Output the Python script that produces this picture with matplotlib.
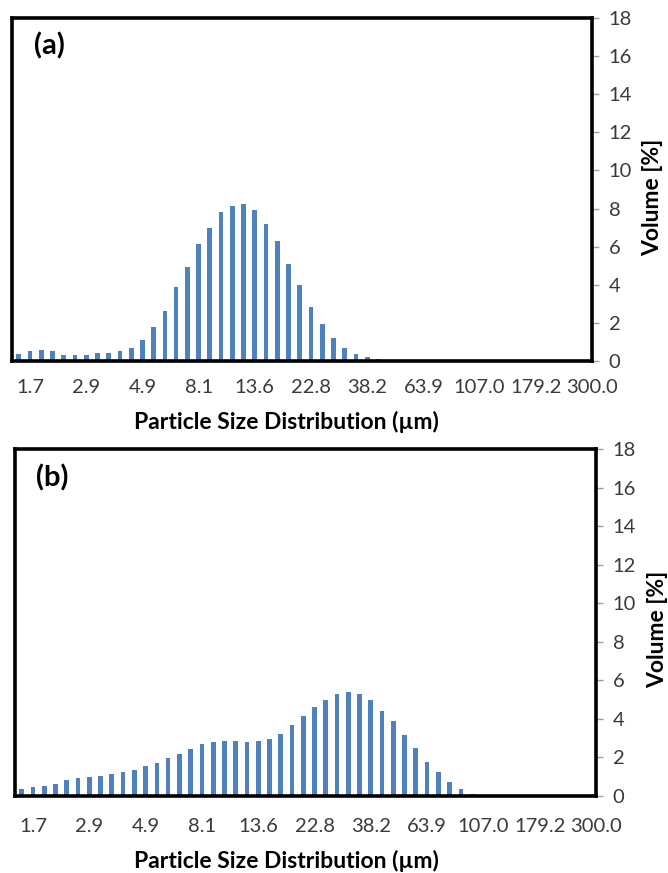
import numpy as np
import matplotlib
matplotlib.use("Agg")
import matplotlib.pyplot as plt

plt.rcParams['font.family'] = ['Lato', 'DejaVu Sans']

# x categories: a label every 5th size class
size_labels = ["1.7", "2.9", "4.9", "8.1", "13.6", "22.8", "38.2",
               "63.9", "107.0", "179.2", "300.0"]
label_pos = [1, 6, 11, 16, 21, 26, 31, 36, 41, 46, 51]

# volume [%] per size class
vol_a = [0.38, 0.51, 0.58, 0.51, 0.33, 0.33, 0.33, 0.40, 0.40, 0.51,
         0.68, 1.12, 1.78, 2.64, 3.86, 4.95, 6.15, 7.00, 7.81, 8.16,
         8.23, 7.94, 7.20, 6.29, 5.07, 3.97, 2.85, 1.95, 1.20, 0.68,
         0.38, 0.21, 0.12, 0.07, 0.05, 0.05] + [0.0] * 16
vol_b = [0.35, 0.47, 0.52, 0.64, 0.81, 0.93, 0.99, 1.06, 1.12, 1.25,
         1.37, 1.54, 1.73, 1.96, 2.20, 2.44, 2.68, 2.80, 2.85, 2.85,
         2.80, 2.85, 2.98, 3.22, 3.70, 4.13, 4.63, 4.97, 5.28, 5.38,
         5.28, 4.98, 4.43, 3.89, 3.17, 2.51, 1.78, 1.25, 0.71, 0.35,
         0.10] + [0.0] * 11

bar_color = "#4F81BD"
W, H = 668, 873

fig = plt.figure(figsize=(W / 100, H / 100), dpi=100)


def panel(rect, vals, tag, xlab_y, ylab_x, ylab_y, xpad):
    ax = fig.add_axes(rect)
    x = np.arange(len(vals))
    ax.bar(x, vals, width=0.42, color=bar_color)
    ax.set_xlim(-0.6, 51.0)
    ax.set_ylim(0, 18)
    ax.set_yticks(np.arange(0, 19, 2))
    ax.set_xticks(label_pos)
    ax.set_xticklabels(size_labels)
    ax.yaxis.tick_right()
    ax.tick_params(axis='y', right=True, left=False, length=5, width=1,
                   color='#a0a0a0', pad=7, labelsize=14.5,
                   labelcolor='#3a3a3a')
    ax.tick_params(axis='x', length=0, pad=xpad, labelsize=14.5,
                   labelcolor='#3a3a3a')
    for s in ax.spines.values():
        s.set_linewidth(2.6)
        s.set_color('black')
    # panel tag, centred about 37 px right of the frame
    ax.text(37 / 580, 0.918, tag, transform=ax.transAxes, fontsize=21,
            fontweight='bold', ha='center', va='center')
    fig.text(286 / W, 1 - xlab_y / H, "Particle Size Distribution (\u00b5m)",
             ha='center', va='center', fontsize=16.5, fontweight='bold')
    fig.text(ylab_x / W, 1 - ylab_y / H, "Volume [%]", rotation=90,
             ha='center', va='center', fontsize=16.5, fontweight='bold')
    return ax


panel([12 / W, 1 - 361 / H, 580 / W, 343 / H], vol_a, "(a)", 422, 653, 197, 13)
panel([15 / W, 1 - 796 / H, 581 / W, 347 / H], vol_b, "(b)", 861, 658, 629, 16)

fig.savefig("out.png", dpi=100)
